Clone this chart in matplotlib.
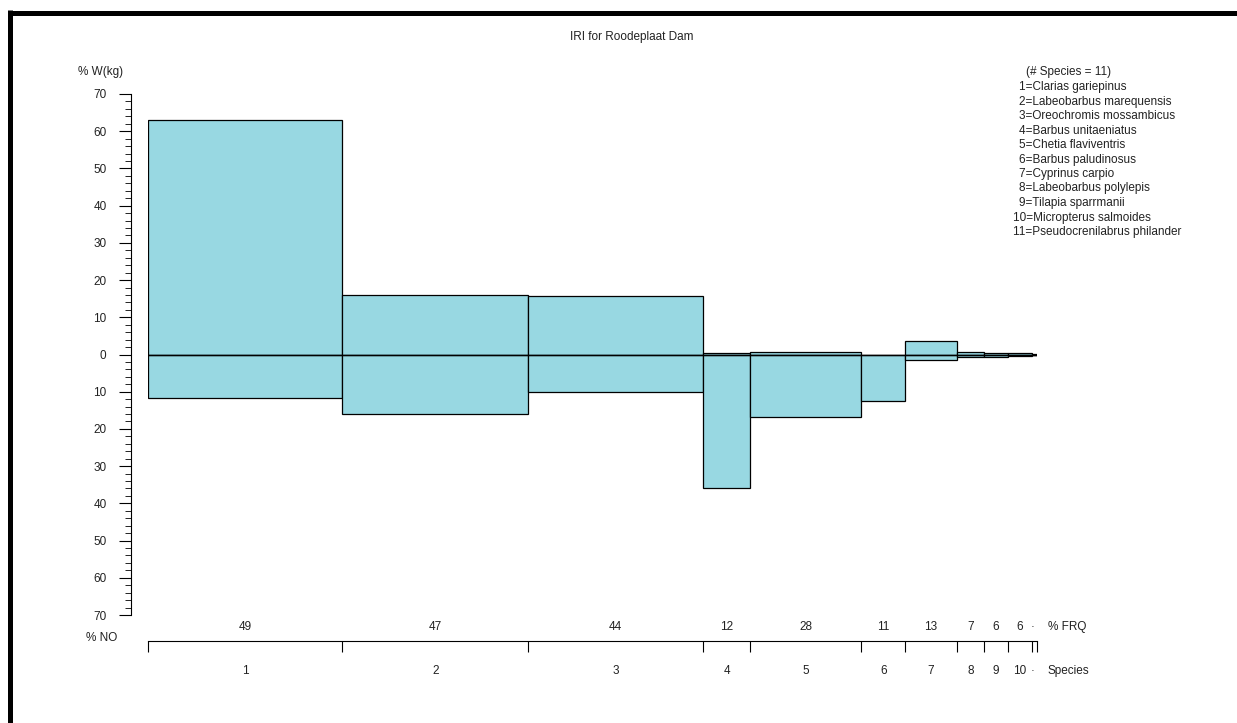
import numpy as np
from matplotlib import pyplot as plt
from matplotlib.lines import Line2D

# データ
species = ["1", "2", "3", "4", "5", "6", "7", "8", "9", "10", "·"]
frq = [49, 47, 44, 12, 28, 11, 13, 7, 6, 6, 1.3]
w_kg = [62.9, 15.9, 15.6, 0.4, 0.7, 0.0, 3.6, 0.6, 0.3, 0.4, 0.1]
no_pct = [11.6, 16.1, 10.2, 35.8, 16.9, 12.6, 1.5, 0.6, 0.6, 0.3, 0.1]
frq_labels = ["49", "47", "44", "12", "28", "11", "13", "7", "6", "6", "·"]
names = ["Clarias gariepinus", "Labeobarbus marequensis", "Oreochromis mossambicus",
         "Barbus unitaeniatus", "Chetia flaviventris", "Barbus paludinosus",
         "Cyprinus carpio", "Labeobarbus polylepis", "Tilapia sparrmanii",
         "Micropterus salmoides", "Pseudocrenilabrus philander"]

plt.rcParams['font.family'] = ['Liberation Sans', 'DejaVu Sans']
fs = 8.5
tc = '#222222'
W, H = 1237, 723

fig = plt.figure(figsize=(W / 100, H / 100), dpi=100)
# 軸の位置はピクセルから
ax = fig.add_axes([148 / W, 1 - 615 / H, (1037 - 148) / W, (615 - 94) / H])

left = np.concatenate([[0], np.cumsum(frq)[:-1]])
centers = left + np.array(frq) / 2
col = '#98d8e2'
ax.bar(left, w_kg, width=frq, align='edge', color=col, edgecolor='black', lw=0.9)
ax.bar(left, -np.array(no_pct), width=frq, align='edge', color=col, edgecolor='black', lw=0.9)
ax.axhline(0, color='black', lw=1)

ax.set_xlim(0, sum(frq))
ax.set_ylim(-70, 70)

# 縦軸
for s in ['top', 'right']:
    ax.spines[s].set_visible(False)
ax.spines['left'].set_position(('outward', 12.2))
ax.spines['left'].set_bounds(-70, 70)
ax.set_yticks(np.arange(-70, 71, 10))
ax.set_yticks(np.arange(-70, 71, 2), minor=True)
ax.set_yticklabels([str(abs(v)) for v in range(-70, 71, 10)])
ax.tick_params(axis='y', which='major', length=8.6, pad=9, labelsize=fs, labelcolor=tc)
ax.tick_params(axis='y', which='minor', length=4.3)

# 横軸（区切り）
ax.spines['bottom'].set_position(('outward', 18.7))
ax.set_xticks(np.concatenate([left, [sum(frq)]]))
ax.set_xticklabels([])
ax.tick_params(axis='x', which='major', length=8, direction='out')

for c, f, s in zip(centers, frq_labels, species):
    ha = 'right' if s == '·' else 'center'
    ax.annotate(f, xy=(c, 0), xycoords=('data', 'axes fraction'), xytext=(0, -8.6),
                textcoords='offset points', ha=ha, va='center', fontsize=fs, color=tc)
    ax.annotate(s, xy=(c, 0), xycoords=('data', 'axes fraction'), xytext=(0, -40.3),
                textcoords='offset points', ha=ha, va='center', fontsize=fs, color=tc)

# ラベル
fig.text(1048 / W, 1 - 627 / H, "% FRQ", fontsize=fs, color=tc, va='center')
fig.text(1048 / W, 1 - 671 / H, "Species", fontsize=fs, color=tc, va='center')
fig.text(78 / W, 1 - 72 / H, "% W(kg)", fontsize=fs, color=tc, va='center')
fig.text(86 / W, 1 - 638 / H, "% NO", fontsize=fs, color=tc, va='center')
fig.text(632 / W, 1 - 37 / H, "IRI for Roodeplaat Dam", fontsize=fs, color=tc,
         ha='center', va='center')

# 凡例テキスト
fig.text(1026 / W, 1 - 72 / H, "(# Species = 11)", fontsize=fs, color=tc, va='center')
for i, n in enumerate(names):
    x = 1019 if i < 9 else 1013
    fig.text(x / W, 1 - (87 + 14.5 * i) / H, f"{i+1}={n}", fontsize=fs, color=tc, va='center')

# 枠線（上と左）
fig.add_artist(Line2D([9.5 / W, 1], [1 - 12.5 / H] * 2, transform=fig.transFigure,
                      color='black', lw=3.6, solid_capstyle='butt'))
fig.add_artist(Line2D([9.5 / W] * 2, [1 - 10 / H, 0], transform=fig.transFigure,
                      color='black', lw=3.6, solid_capstyle='butt'))

plt.savefig('out.png', dpi=100)
